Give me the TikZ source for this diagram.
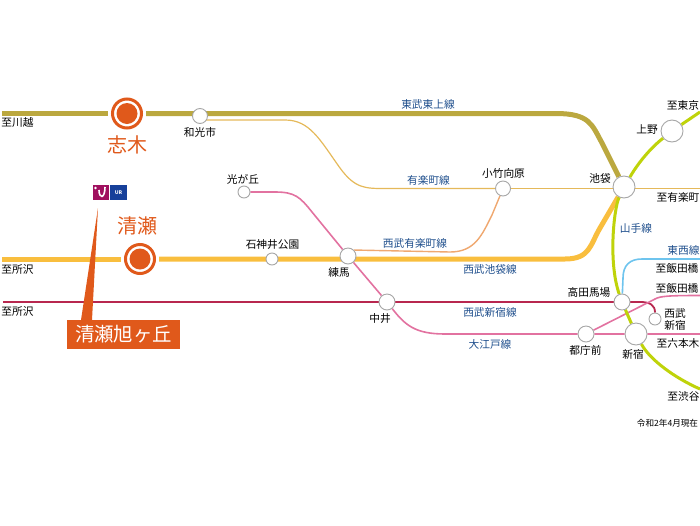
\documentclass[tikz,border=0pt]{standalone}
\usepackage{fontspec}
\usetikzlibrary{backgrounds}
\setmainfont{Noto Sans CJK JP}
\definecolor{tojoc}{HTML}{BBA83F}
\definecolor{ikec}{HTML}{F9BE3E}
\definecolor{shinc}{HTML}{B8274F}
\definecolor{oedoc}{HTML}{E272A0}
\definecolor{tozaic}{HTML}{6EC4EE}
\definecolor{yamac}{HTML}{BFD30A}
\definecolor{yurac}{HTML}{E5B95A}
\definecolor{syurac}{HTML}{EFA870}
\definecolor{namec}{HTML}{1E4E8C}
\definecolor{hubc}{HTML}{E0591B}
\definecolor{urpink}{HTML}{A0105F}
\definecolor{urblue}{HTML}{17409A}
\tikzset{
  station/.style={circle,draw=gray!70,fill=white,line width=0.9pt,inner sep=0pt,minimum size=#1},
  hub/.style={circle,draw=hubc,fill=white,line width=3pt,inner sep=0pt,minimum size=29pt},
  hubspot/.style={circle,fill=hubc,inner sep=0pt,minimum size=21pt},
  lab/.style={font=\fontsize{10.7}{12}\selectfont,inner sep=0pt,align=center},
  linename/.style={font=\fontsize{10.7}{12}\selectfont,inner sep=0pt,text=namec},
  hubname/.style={font=\fontsize{20}{22}\selectfont,inner sep=0pt,text=hubc},
}
\begin{document}
\begin{tikzpicture}[x=1pt,y=-1pt]
\useasboundingbox (0,0) rectangle (700,525);
\node[hub] (shiki) at (127,113.5) {};
\node[hub] (kiyose) at (140,259) {};
\node[hubspot] (shikispot) at (shiki) {};
\node[hubspot] (kiyosespot) at (kiyose) {};
\node[station=15pt] (wako) at (200,116) {};
\node[station=12pt] (hikari) at (244,192) {};
\node[station=12pt] (shakujii) at (272,259) {};
\node[station=16pt] (nerima) at (348,256) {};
\node[station=16pt] (nakai) at (387,302) {};
\node[station=15pt] (kotake) at (503,188.5) {};
\node[station=22pt] (ikebukuro) at (624,187) {};
\node[station=22pt] (ueno) at (672,131) {};
\node[station=16pt] (baba) at (622,302) {};
\node[station=12pt] (seibushin) at (655,319) {};
\node[station=16pt] (tocho) at (586,334) {};
\node[station=22pt] (shinjuku) at (636,334) {};
\coordinate (kawagoe) at (2,113.5);
\coordinate (tokorow) at (2,259);
\coordinate (tokoroe) at (3,302);
\coordinate (tokyo) at (700,112);
\coordinate (shibuya) at (700,389);
\coordinate (yuraw) at (204,120);
\coordinate (yurae) at (700,188.5);
\coordinate (iidaa) at (700,259);
\coordinate (iidab) at (700,295.5);
\coordinate (roppongi) at (700,334);
\coordinate (pointtip) at (98,208);
\coordinate (pointl) at (81,320);
\coordinate (pointr) at (92,320);
\begin{scope}[on background layer]
\draw [tojoc,line width=5pt,shorten >=3pt] (kawagoe) -- (shiki);
\draw [tojoc,line width=5pt,shorten <=3pt] (shiki) -- (556,113.5) .. controls (590,113.5) and (592,125) .. (602,143) -- (ikebukuro);
\draw [ikec,line width=5pt,shorten >=3pt] (tokorow) -- (kiyose);
\draw [ikec,line width=5pt,shorten <=3pt] (kiyose) -- (565,259) .. controls (590,259) and (590,245) .. (600,228) -- (ikebukuro);
\draw [shinc,line width=1.8pt] (tokoroe) -- (640,302) .. controls (650,302) and (655,305) .. (seibushin);
\draw [yurac,line width=1.2pt] (yuraw) -- (285,120) .. controls (310,120) and (320,140) .. (340,168) .. controls (355,188.5) and (365,188.5) .. (385,188.5) -- (kotake);
\draw [yurac,line width=1.2pt] (kotake) -- (yurae);
\draw [syurac,line width=1.4pt] (nerima.north east) -- (450,252) .. controls (475,252) and (482,235) .. (492,215) -- (kotake);
\draw [oedoc,line width=1.6pt] (hikari) -- (275,192) .. controls (295,192) and (300,197) .. (312,212) -- (nerima) -- (nakai) .. controls (405,325) and (415,334) .. (445,334) -- (tocho) -- (shinjuku) -- (roppongi);
\draw [oedoc,line width=1.6pt] (tocho) -- (655,299) .. controls (660,296) and (670,295.5) .. (iidab);
\draw [tozaic,line width=1.6pt] (baba) -- (623,278) .. controls (623,265) and (630,259) .. (642,259) -- (iidaa);
\draw [yamac,line width=3pt] (tokyo) -- (ueno) .. controls (652,147) and (640,160) .. (ikebukuro) .. controls (614,208) and (608,262) .. (baba) -- (shinjuku) .. controls (650,360) and (675,378) .. (shibuya);
\end{scope}
\node[lab] (t1) at (17.5,122) {至川越};
\node[lab] (t2) at (17.5,269) {至所沢};
\node[lab] (t3) at (17.5,311) {至所沢};
\node[lab] (t4) at (200,132) {和光市};
\node[lab] (t5) at (243,179) {光が丘};
\node[lab] (t6) at (272.5,244) {石神井公園};
\node[lab] (t7) at (339,272) {練馬};
\node[lab] (t8) at (380,318) {中井};
\node[lab] (t9) at (503.5,173) {小竹向原};
\node[lab] (t10) at (600,178) {池袋};
\node[lab] (t11) at (647,130) {上野};
\node[lab] (t12) at (683,105) {至東京};
\node[lab] (t13) at (678,197) {至有楽町};
\node[lab] (t14) at (677,268) {至飯田橋};
\node[lab] (t15) at (677,288) {至飯田橋};
\node[lab] (t16) at (589,292) {高田馬場};
\node[lab] (t17) at (675,319) {西武\\新宿};
\node[lab] (t18) at (585.5,350) {都庁前};
\node[lab] (t19) at (633,354) {新宿};
\node[lab] (t20) at (678,343) {至六本木};
\node[lab] (t21) at (683.5,396) {至渋谷};
\node[lab,font=\fontsize{8.6}{10}\selectfont] (t22) at (667.5,423) {令和2年4月現在};
\node[linename] (n1) at (428,104) {東武東上線};
\node[linename] (n2) at (428.5,180) {有楽町線};
\node[linename] (n3) at (415,243) {西武有楽町線};
\node[linename] (n4) at (490,269) {西武池袋線};
\node[linename] (n5) at (490,312) {西武新宿線};
\node[linename] (n6) at (490,344) {大江戸線};
\node[linename] (n7) at (636,228) {山手線};
\node[linename] (n8) at (683.5,250) {東西線};
\node[hubname] (shikiname) at (127,145) {志木};
\node[hubname] (kiyosename) at (137.5,226) {清瀬};
\node[fill=hubc,text=white,inner sep=0pt,minimum width=113pt,minimum height=29pt,font=\fontsize{19.4}{22}\selectfont] (asahi) at (123.5,334.5) {清瀬旭ヶ丘};
\fill[hubc] (pointtip) -- (pointl) -- (pointr) -- cycle;
\node[fill=urpink,inner sep=0pt,minimum width=16pt,minimum height=15pt] (urmark) at (101,192.5) {};
\node[fill=urblue,text=white,inner sep=0pt,minimum width=17pt,minimum height=15pt,font=\fontsize{5}{5}\selectfont\bfseries] (urtext) at (118.5,192.5) {UR};
\draw[white,line width=1.6pt] (99,190) .. controls (99,199) and (105,199) .. (105,187);
\fill[white] (95.5,188) circle (1.4pt);
\end{tikzpicture}
\end{document}
